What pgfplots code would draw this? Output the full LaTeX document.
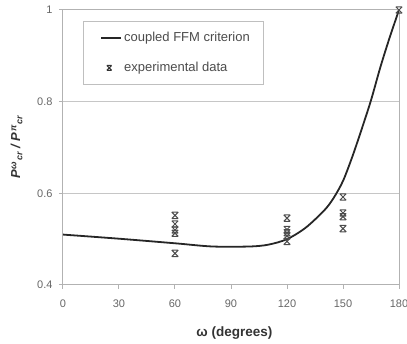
\documentclass[border=0pt]{standalone}
\usepackage{amsmath}
\usepackage{pgfplots}
\pgfplotsset{compat=1.18}
\usepackage{fontspec}
\setmainfont{Liberation Sans}
\pgfdeclareplotmark{xbar}{%
  \pgfpathmoveto{\pgfqpoint{-\pgfplotmarksize}{\pgfplotmarksize}}%
  \pgfpathlineto{\pgfqpoint{\pgfplotmarksize}{-\pgfplotmarksize}}%
  \pgfpathmoveto{\pgfqpoint{\pgfplotmarksize}{\pgfplotmarksize}}%
  \pgfpathlineto{\pgfqpoint{-\pgfplotmarksize}{-\pgfplotmarksize}}%
  \pgfpathmoveto{\pgfqpoint{-\pgfplotmarksize}{\pgfplotmarksize}}%
  \pgfpathlineto{\pgfqpoint{\pgfplotmarksize}{\pgfplotmarksize}}%
  \pgfpathmoveto{\pgfqpoint{-\pgfplotmarksize}{-\pgfplotmarksize}}%
  \pgfpathlineto{\pgfqpoint{\pgfplotmarksize}{-\pgfplotmarksize}}%
  \pgfusepathqstroke}
\pgfplotsset{
  lineleg/.style={legend image code/.code={\path (-5pt,0pt); \draw[##1, line width=1.8pt, black!85] (0pt,0pt) -- (20pt,0pt);}},
  markleg/.style={legend image code/.code={\path (-5pt,0pt) (20pt,0pt); \draw[##1, mark size=2.4pt, line width=1pt, black!80] plot coordinates {(8pt,0pt)};}},
}
\newcommand{\sups}[1]{\raisebox{0.55ex}{\fontsize{9}{10}\selectfont #1}}
\newcommand{\subs}[1]{\raisebox{-0.35ex}{\fontsize{9}{10}\selectfont #1}}
\begin{document}
\begin{tikzpicture}
\begin{axis}[
  scale only axis,
  width=336pt, height=275pt,
  xmin=0, xmax=180, ymin=0.4, ymax=1,
  xtick={0,30,...,180},
  ytick={0.4,0.6,0.8,1},
  yticklabels={0.4,0.6,0.8,1},
  ymajorgrids,
  grid style={gray!45, line width=1pt},
  axis line style={gray!60, line width=1pt},
  tick style={gray!60, line width=1pt},
  tick align=outside,
  major tick length=4pt,
  xtick pos=bottom, ytick pos=left,
  tick label style={font=\fontsize{11}{13}\selectfont, text=black!60},
  yticklabel style={xshift=-3pt},
  xticklabel style={yshift=-7pt},
  /pgf/number format/assume math mode=true,
  xlabel={\bfseries\fontsize{13.5}{15}\selectfont ω (degrees)},
  ylabel={\bfseries\itshape\fontsize{13}{15}\selectfont P\kern1pt\sups{ω}\kern0.8pt\subs{cr} / P\kern1pt\sups{π}\kern0.8pt\subs{cr}},
  xlabel style={at={(axis description cs:0.51,-0.176)}, anchor=center, text=black!80},
  ylabel style={at={(axis description cs:-0.138,0.5)}, anchor=center, text=black!80},
  legend style={at={(0.059,0.96)}, anchor=north west, draw=gray!50, line width=1pt,
    font=\fontsize{13}{15}\selectfont, text=black!70, inner xsep=12pt, inner ysep=9pt,
    row sep=15pt, cells={anchor=west}},
  legend cell align=left,
]
\addplot[black!85, line width=1.8pt, smooth, lineleg] coordinates {
(0,0.510) (30,0.501) (60,0.491) (80,0.484) (100,0.484) (110,0.488) (120,0.500)
(130,0.525) (140,0.563) (145,0.590) (150,0.627) (155,0.680) (160,0.740)
(165,0.803) (170,0.875) (175,0.940) (180,1.0)};
\addlegendentry{coupled FFM criterion}
\addplot[only marks, mark=xbar, mark size=3.2pt, black!70, line width=1pt, markleg] coordinates {
(60,0.552) (60,0.533) (60,0.520) (60,0.513) (60,0.469)
(120,0.546) (120,0.521) (120,0.514) (120,0.507) (120,0.495)
(150,0.592) (150,0.557) (150,0.549) (150,0.523)
(180,1.0)};
\addlegendentry{experimental data}
\coordinate (bl) at (rel axis cs:0,0);
\coordinate (tr) at (rel axis cs:1,1);
\end{axis}
\pgfresetboundingbox
\path[use as bounding box] ([shift={(-63pt,-59pt)}]bl) rectangle ([shift={(8pt,10pt)}]tr);
\end{tikzpicture}
\end{document}
